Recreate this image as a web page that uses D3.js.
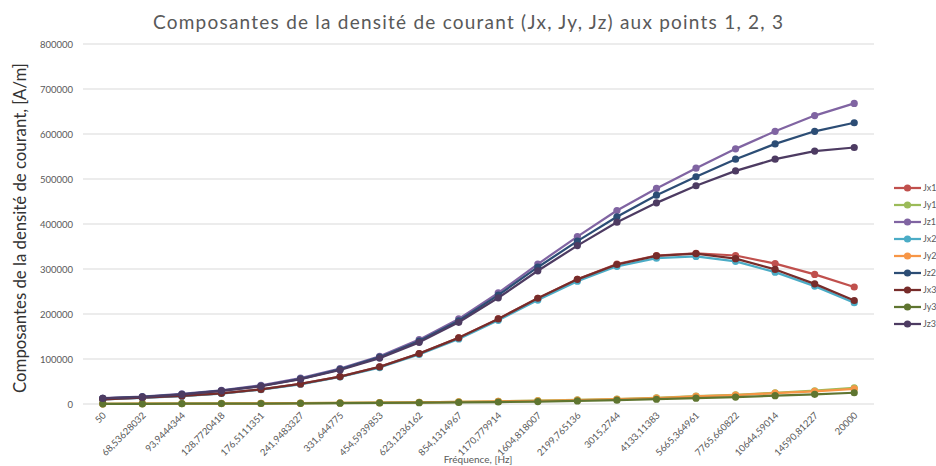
<!DOCTYPE html>
<html>
<head>
<meta charset="utf-8">
<script src="https://cdn.jsdelivr.net/npm/d3@7/dist/d3.min.js"></script>
<style>
  html, body { margin: 0; padding: 0; background: #fff; }
  svg { display: block; font-family: Lato, "Open Sans", "Liberation Sans", sans-serif; }
</style>
</head>
<body>
<svg id="chart" width="936" height="466"></svg>
<script>
// Frequencies (Hz), written as in the source workbook
const categories = ["50","68,53628032","93,9444344","128,7720418","176,5111351","241,9483327","331,644775","454,5939853","623,1236162","854,1314967","1170,779914","1604,818007","2199,765136","3015,2744","4133,11383","5665,364961","7765,660822","10644,59014","14590,81227","20000"];

// Current density components [A/m]
const Jx1 = [10400, 14000, 17800, 23800, 32500, 44500, 61000, 82500, 112000, 147000, 189000, 235000, 277000, 311000, 330000, 335000, 330000, 312000, 288000, 260000];
const Jy1 = [500, 700, 900, 1200, 1500, 1900, 2400, 3000, 3800, 4800, 6000, 7400, 9000, 11000, 13500, 17700, 20500, 25000, 29500, 36000];
const Jz1 = [12800, 16500, 22500, 30500, 41500, 57500, 78500, 106000, 143000, 189000, 247000, 311000, 372000, 430000, 479000, 524000, 567000, 606000, 641000, 668000];
const Jx2 = [10200, 13700, 17400, 23300, 32000, 43800, 60000, 81000, 110000, 144500, 186000, 231000, 273000, 306000, 324000, 328000, 317000, 293000, 262000, 225000];
const Jy2 = [500, 650, 850, 1100, 1400, 1800, 2300, 2900, 3700, 4600, 5800, 7100, 8700, 10600, 13000, 17000, 19800, 24000, 28000, 33500];
const Jz2 = [12600, 16000, 21500, 29500, 40000, 56000, 77000, 104000, 140000, 185000, 242000, 304000, 362000, 416000, 464000, 505000, 544000, 578000, 606000, 625000];
const Jx3 = [10400, 14000, 17800, 23800, 32500, 44500, 61000, 82500, 112000, 147000, 189000, 235000, 277000, 310000, 329000, 334000, 323000, 299000, 267000, 230000];
const Jy3 = [400, 500, 700, 900, 1100, 1400, 1800, 2300, 2900, 3600, 4400, 5400, 6800, 8600, 10600, 13000, 15500, 18500, 21500, 25000];
const Jz3 = [12300, 15500, 21000, 29000, 39500, 55000, 75500, 102000, 137000, 181500, 236000, 296000, 352000, 404000, 447000, 485000, 518000, 544000, 562000, 570000];

const yTicks = [0, 100000, 200000, 300000, 400000, 500000, 600000, 700000, 800000];

const seriesNames = ["Jx1", "Jy1", "Jz1", "Jx2", "Jy2", "Jz2", "Jx3", "Jy3", "Jz3"];
const seriesValues = [Jx1, Jy1, Jz1, Jx2, Jy2, Jz2, Jx3, Jy3, Jz3];
const seriesColors = ["#C0504D", "#9BBB59", "#8064A2", "#4BACC6", "#F79646", "#2C4D75", "#772C2A", "#5F7530", "#4D3B62"];

const series = seriesNames.map((name, k) => ({ name, color: seriesColors[k], values: seriesValues[k] }));

const svg = d3.select("#chart");
const plot = { left: 83, right: 874, top: 44, bottom: 404 };

const x = d3.scaleBand().domain(categories).range([plot.left, plot.right]);
const y = d3.scaleLinear().domain([0, 800000]).range([plot.bottom, plot.top]);
const cx = c => x(c) + x.bandwidth() / 2;

// Horizontal gridlines
svg.append("g")
  .selectAll("line")
  .data(yTicks)
  .join("line")
  .attr("x1", plot.left).attr("x2", plot.right)
  .attr("y1", d => y(d)).attr("y2", d => y(d))
  .attr("stroke", "#D9D9D9").attr("stroke-width", 1);

// Y axis tick labels
const yAxis = d3.axisLeft(y).tickValues(yTicks).tickSize(0).tickPadding(10).tickFormat(d3.format("d"));
svg.append("g")
  .attr("transform", `translate(${plot.left},0)`)
  .call(yAxis)
  .call(g => g.select(".domain").remove())
  .call(g => g.selectAll("text")
    .attr("fill", "#595959").attr("font-size", 9.5)
    .style("font-family", "Lato, 'Open Sans', sans-serif"));

// X axis tick labels, slanted
const xAxis = d3.axisBottom(x).tickSize(0).tickPadding(0);
svg.append("g")
  .attr("transform", `translate(0,${plot.bottom})`)
  .call(xAxis)
  .call(g => g.select(".domain").remove())
  .call(g => g.selectAll("text")
    .attr("fill", "#595959").attr("font-size", 9.5)
    .style("font-family", "Lato, 'Open Sans', sans-serif")
    .attr("text-anchor", "end")
    .attr("dy", 0)
    .attr("transform", "translate(4,12) rotate(-45)"));

// Lines and markers
const line = d3.line()
  .x((d, i) => cx(categories[i]))
  .y(d => y(d));

const sg = svg.append("g")
  .selectAll("g")
  .data(series)
  .join("g");

sg.append("path")
  .attr("d", d => line(d.values))
  .attr("fill", "none")
  .attr("stroke", d => d.color)
  .attr("stroke-width", 2.25)
  .attr("stroke-linejoin", "round")
  .attr("stroke-linecap", "round");

sg.selectAll("circle")
  .data(d => d.values.map((v, i) => ({ v, i, color: d.color })))
  .join("circle")
  .attr("cx", d => cx(categories[d.i]))
  .attr("cy", d => y(d.v))
  .attr("r", 3.6)
  .attr("fill", d => d.color);

// Title
svg.append("text")
  .attr("x", 468).attr("y", 29)
  .attr("text-anchor", "middle")
  .attr("font-size", 19)
  .attr("fill", "#595959")
  .attr("textLength", 630)
  .attr("lengthAdjust", "spacing")
  .text("Composantes de la densité de courant (Jx, Jy, Jz) aux points 1, 2, 3");

// Y axis title, sized to span the plot height
const yTitle = svg.append("text")
  .attr("transform", "translate(26,228) rotate(-90)")
  .attr("text-anchor", "middle")
  .attr("font-size", 20)
  .attr("fill", "#333")
  .text("Composantes de la densité de courant, [A/m]");
const natural = yTitle.node().getComputedTextLength();
const fitted = Math.min(22, 20 * 330 / natural);
yTitle.attr("font-size", fitted);

// X axis title
svg.append("text")
  .attr("x", 478).attr("y", 463)
  .attr("text-anchor", "middle")
  .attr("font-size", 10)
  .attr("fill", "#595959")
  .text("Fréquence, [Hz]");

// Legend
const legend = svg.append("g")
  .selectAll("g")
  .data(series)
  .join("g")
  .attr("transform", (d, k) => `translate(894,${188 + k * 17})`);

legend.append("line")
  .attr("x1", 0).attr("x2", 27)
  .attr("stroke", d => d.color).attr("stroke-width", 2.25);
legend.append("circle")
  .attr("cx", 13.5).attr("r", 3.6)
  .attr("fill", d => d.color);
legend.append("text")
  .attr("x", 29).attr("dy", "0.35em")
  .attr("font-size", 9)
  .attr("fill", "#595959")
  .text(d => d.name);
</script>
</body>
</html>
